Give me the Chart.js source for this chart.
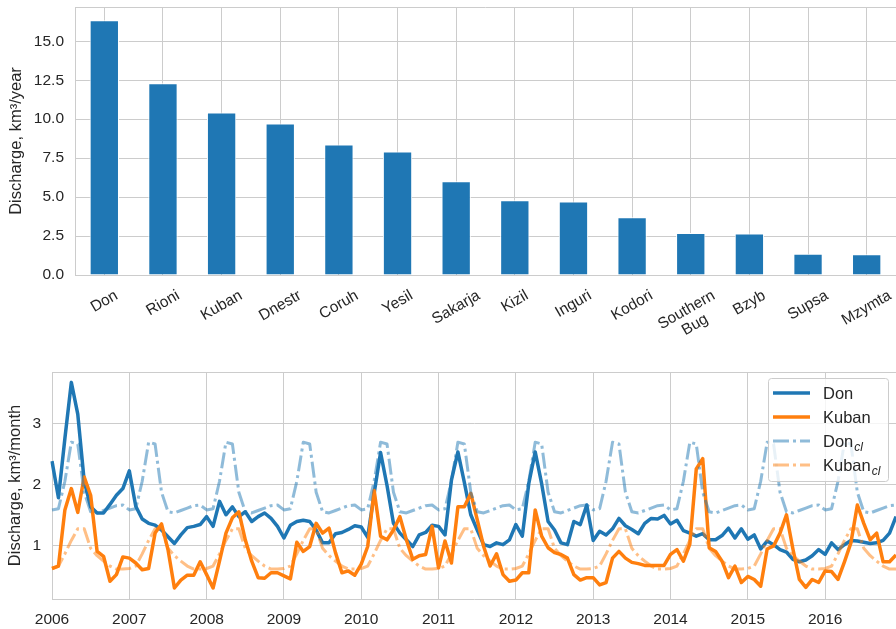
<!DOCTYPE html>
<html>
<head>
<meta charset="utf-8">
<title>Black Sea rivers discharge</title>
<script src="https://cdn.jsdelivr.net/npm/chart.js@4.4.1/dist/chart.umd.min.js"></script>
<style>
  html, body { margin: 0; padding: 0; background: #fff; overflow: hidden; }
  #wrap { position: relative; width: 896px; height: 629px; }
  #topBox { position: absolute; left: 0; top: 0; width: 896px; height: 335px; }
  #bottomBox { position: absolute; left: 0; top: 340px; width: 896px; height: 289px; }
</style>
</head>
<body>
<div id="wrap">
  <div id="topBox"><canvas id="rivers"></canvas></div>
  <div id="bottomBox"><canvas id="monthly"></canvas></div>
</div>
<script>
// ---- data: annual discharge per river ----
const rivers = ['Don', 'Rioni', 'Kuban', 'Dnestr', 'Coruh', 'Yesil', 'Sakarja', 'Kizil',
  'Inguri', 'Kodori', 'Southern\nBug', 'Bzyb', 'Supsa', 'Mzymta'];
const annualDischarge = [16.35, 12.3, 10.43, 9.72, 8.37, 7.92, 6.01, 4.80, 4.72, 3.71, 2.70, 2.66, 1.37, 1.33];
const annualTicks = [0, 2.5, 5, 7.5, 10, 12.5, 15];

// ---- data: monthly discharge 2006-2016 ----
const years = [2006, 2007, 2008, 2009, 2010, 2011, 2012, 2013, 2014, 2015, 2016];
const monthlyTicks = [1, 2, 3];

const donMonthly = [
  2.38, 1.78, 2.75, 3.67, 3.15, 2.05, 1.63, 1.53, 1.53, 1.67, 1.82, 1.93,
  2.22, 1.64, 1.43, 1.36, 1.33, 1.25, 1.14, 1.03, 1.17, 1.29, 1.31, 1.34,
  1.47, 1.31, 1.72, 1.50, 1.63, 1.47, 1.55, 1.39, 1.47, 1.53, 1.44, 1.31,
  1.12, 1.33, 1.39, 1.41, 1.39, 1.25, 1.04, 1.04, 1.19, 1.21, 1.26, 1.32,
  1.30, 1.13, 1.85, 2.52, 1.98, 1.36, 1.20, 1.09, 0.98, 1.17, 1.21, 1.33,
  1.31, 1.17, 2.07, 2.53, 2.03, 1.50, 1.25, 1.01, 0.98, 1.04, 1.01, 1.09,
  1.34, 1.15, 2.01, 2.53, 2.01, 1.39, 1.25, 1.04, 1.01, 1.39, 1.34, 1.66,
  1.08, 1.23, 1.17, 1.27, 1.44, 1.32, 1.26, 1.19, 1.36, 1.44, 1.43, 1.49,
  1.35, 1.41, 1.24, 1.20, 1.15, 1.19, 1.09, 1.09, 1.16, 1.28, 1.12, 1.27,
  1.10, 1.17, 0.94, 1.07, 1.01, 0.93, 0.89, 0.77, 0.73, 0.76, 0.83, 0.93,
  0.85, 1.04, 0.93, 1.01, 1.08, 1.07, 1.05, 1.03, 1.04, 1.08, 1.20, 1.47
];
const kubanMonthly = [
  0.62, 0.66, 1.58, 1.93, 1.54, 2.12, 1.82, 0.90, 0.82, 0.41, 0.52, 0.81,
  0.79, 0.71, 0.60, 0.62, 1.20, 1.35, 0.93, 0.30, 0.43, 0.51, 0.51, 0.73,
  0.52, 0.30, 0.74, 1.20, 1.45, 1.55, 1.09, 0.74, 0.47, 0.46, 0.55, 0.55,
  0.50, 0.45, 1.05, 0.90, 0.98, 1.36, 1.20, 1.28, 0.88, 0.55, 0.58, 0.51,
  0.69, 0.98, 1.90, 1.15, 1.09, 1.25, 1.47, 1.09, 0.77, 0.83, 0.85, 1.31,
  0.63, 1.07, 0.71, 1.63, 1.63, 1.85, 1.42, 0.98, 0.66, 0.86, 0.52, 0.41,
  0.43, 0.55, 0.55, 1.58, 1.15, 0.96, 0.88, 0.85, 0.79, 0.52, 0.43, 0.47,
  0.47, 0.35, 0.39, 0.79, 0.90, 0.79, 0.72, 0.70, 0.67, 0.67, 0.67, 0.67,
  0.85, 0.93, 0.74, 1.02, 2.25, 2.42, 0.96, 0.90, 0.74, 0.47, 0.66, 0.39,
  0.49, 0.44, 0.33, 0.94, 0.99, 1.20, 1.50, 0.94, 0.44, 0.31, 0.44, 0.39,
  0.58, 0.57, 0.44, 0.73, 1.04, 1.66, 1.36, 1.09, 1.20, 0.73, 0.73, 0.84
];
// climatology (same seasonal cycle every year)
const donClimate = [
  1.58, 1.60, 2.05, 2.69, 2.66, 1.87, 1.55, 1.53, 1.57, 1.61, 1.65, 1.66,
  1.58, 1.60, 2.05, 2.69, 2.66, 1.87, 1.55, 1.53, 1.57, 1.61, 1.65, 1.66,
  1.58, 1.60, 2.05, 2.69, 2.66, 1.87, 1.55, 1.53, 1.57, 1.61, 1.65, 1.66,
  1.58, 1.60, 2.05, 2.69, 2.66, 1.87, 1.55, 1.53, 1.57, 1.61, 1.65, 1.66,
  1.58, 1.60, 2.05, 2.69, 2.66, 1.87, 1.55, 1.53, 1.57, 1.61, 1.65, 1.66,
  1.58, 1.60, 2.05, 2.69, 2.66, 1.87, 1.55, 1.53, 1.57, 1.61, 1.65, 1.66,
  1.58, 1.60, 2.05, 2.69, 2.66, 1.87, 1.55, 1.53, 1.57, 1.61, 1.65, 1.66,
  1.58, 1.60, 2.05, 2.69, 2.66, 1.87, 1.55, 1.53, 1.57, 1.61, 1.65, 1.66,
  1.58, 1.60, 2.05, 2.69, 2.66, 1.87, 1.55, 1.53, 1.57, 1.61, 1.65, 1.66,
  1.58, 1.60, 2.05, 2.69, 2.66, 1.87, 1.55, 1.53, 1.57, 1.61, 1.65, 1.66,
  1.58, 1.60, 2.05, 2.69, 2.66, 1.87, 1.55, 1.53, 1.57, 1.61, 1.65, 1.66
];
const kubanClimate = [
  0.62, 0.66, 0.86, 1.08, 1.27, 1.27, 0.95, 0.83, 0.74, 0.66, 0.61, 0.61,
  0.62, 0.66, 0.86, 1.08, 1.27, 1.27, 0.95, 0.83, 0.74, 0.66, 0.61, 0.61,
  0.62, 0.66, 0.86, 1.08, 1.27, 1.27, 0.95, 0.83, 0.74, 0.66, 0.61, 0.61,
  0.62, 0.66, 0.86, 1.08, 1.27, 1.27, 0.95, 0.83, 0.74, 0.66, 0.61, 0.61,
  0.62, 0.66, 0.86, 1.08, 1.27, 1.27, 0.95, 0.83, 0.74, 0.66, 0.61, 0.61,
  0.62, 0.66, 0.86, 1.08, 1.27, 1.27, 0.95, 0.83, 0.74, 0.66, 0.61, 0.61,
  0.62, 0.66, 0.86, 1.08, 1.27, 1.27, 0.95, 0.83, 0.74, 0.66, 0.61, 0.61,
  0.62, 0.66, 0.86, 1.08, 1.27, 1.27, 0.95, 0.83, 0.74, 0.66, 0.61, 0.61,
  0.62, 0.66, 0.86, 1.08, 1.27, 1.27, 0.95, 0.83, 0.74, 0.66, 0.61, 0.61,
  0.62, 0.66, 0.86, 1.08, 1.27, 1.27, 0.95, 0.83, 0.74, 0.66, 0.61, 0.61,
  0.62, 0.66, 0.86, 1.08, 1.27, 1.27, 0.95, 0.83, 0.74, 0.66, 0.61, 0.61
];

// month labels like "2006-01"
const monthLabels = [];
years.forEach(y => {
  for (let m = 1; m <= 12; m++) monthLabels.push(y + '-' + String(m).padStart(2, '0'));
});

const TEXT = '#262626';
const GRID = '#cccccc';
const FONT = '"Liberation Sans", Arial, sans-serif';
const BLUE = '#1f77b4';
const ORANGE = '#ff7f0e';

Chart.defaults.font.family = FONT;
Chart.defaults.color = TEXT;
Chart.defaults.animation = false;

// top spine (seaborn whitegrid draws a frame)
const topSpine = {
  id: 'topSpine',
  afterDatasetsDraw(chart) {
    const a = chart.chartArea, ctx = chart.ctx;
    ctx.save();
    ctx.strokeStyle = GRID;
    ctx.lineWidth = 1;
    ctx.beginPath();
    ctx.moveTo(a.left, a.top + 0.5);
    ctx.lineTo(a.right, a.top + 0.5);
    ctx.stroke();
    ctx.restore();
  }
};

// x labels rotated 30deg, centred under each bar (matplotlib style)
const rotatedLabels = {
  id: 'rotatedLabels',
  afterDraw(chart) {
    const xs = chart.scales.x, ctx = chart.ctx;
    const ang = 30 * Math.PI / 180, lh = 17;
    ctx.save();
    ctx.font = '15.5px ' + FONT;
    ctx.fillStyle = TEXT;
    ctx.textAlign = 'center';
    ctx.textBaseline = 'middle';
    chart.data.labels.forEach((lab, i) => {
      const lines = lab.split('\n');
      const w = Math.max(...lines.map(l => ctx.measureText(l).width));
      const h = lines.length * lh;
      const bh = w * Math.sin(ang) + h * Math.cos(ang);
      const cx = xs.getPixelForValue(i);
      const cy = chart.chartArea.bottom + 12 + bh / 2;
      ctx.save();
      ctx.translate(cx, cy);
      ctx.rotate(-ang);
      lines.forEach((l, k) => ctx.fillText(l, 0, (k - (lines.length - 1) / 2) * lh));
      ctx.restore();
    });
    ctx.restore();
  }
};

// legend box in the upper right with subscripts
const cornerLegend = {
  id: 'cornerLegend',
  afterDraw(chart) {
    const ctx = chart.ctx, a = chart.chartArea;
    const boxW = 120, boxH = 103;
    const x0 = a.right - 8 - boxW, y0 = a.top + 6;
    ctx.save();
    ctx.beginPath();
    ctx.roundRect(x0 + 0.5, y0 + 0.5, boxW, boxH, 3);
    ctx.fillStyle = 'rgba(255,255,255,0.8)';
    ctx.fill();
    ctx.strokeStyle = GRID;
    ctx.lineWidth = 1;
    ctx.stroke();
    chart.data.datasets.forEach((ds, i) => {
      const y = y0 + 15 + i * 24;
      ctx.beginPath();
      ctx.strokeStyle = ds.borderColor;
      ctx.lineWidth = ds.borderWidth;
      ctx.setLineDash(ds.borderDash || []);
      ctx.moveTo(x0 + 5, y);
      ctx.lineTo(x0 + 42, y);
      ctx.stroke();
      ctx.setLineDash([]);
      const parts = ds.label.split('_');
      ctx.fillStyle = TEXT;
      ctx.textBaseline = 'alphabetic';
      ctx.font = '16.5px ' + FONT;
      const tx = x0 + 55, base = y + 6;
      ctx.fillText(parts[0], tx, base);
      if (parts[1]) {
        const w = ctx.measureText(parts[0]).width;
        ctx.font = 'italic 12px ' + FONT;
        ctx.fillText(parts[1], tx + w + 1, base + 3.5);
      }
    });
    ctx.restore();
  }
};

// drop the extra room Chart.js keeps for half tick labels
function noEdgePadding(scale) {
  scale.paddingTop = 0;
  scale.paddingBottom = 0;
}

// ---- top chart: bars ----
new Chart(document.getElementById('rivers'), {
  type: 'bar',
  data: {
    labels: rivers,
    datasets: [{
      data: annualDischarge,
      backgroundColor: BLUE,
      borderColor: '#ffffff',
      borderWidth: 1,
      categoryPercentage: 1.0,
      barPercentage: 0.5
    }]
  },
  options: {
    responsive: true,
    maintainAspectRatio: false,
    layout: { padding: { top: 7, right: 0, left: 0, bottom: 0 } },
    plugins: { legend: { display: false }, tooltip: { enabled: false } },
    scales: {
      x: {
        grid: { color: GRID, offset: false, drawTicks: false },
        border: { color: GRID },
        ticks: { display: false },
        afterFit(scale) { scale.height = 60; }
      },
      y: {
        min: 0,
        max: 17.2,
        grid: { color: GRID, drawTicks: false },
        border: { color: GRID },
        ticks: {
          padding: 11,
          font: { size: 15.5 },
          callback: v => v.toFixed(1)
        },
        afterBuildTicks(scale) { scale.ticks = annualTicks.map(v => ({ value: v })); },
        afterFit(scale) { scale.width = 75; noEdgePadding(scale); },
        title: {
          display: true,
          text: 'Discharge, km³/year',
          font: { size: 16.5 },
          padding: { top: 7, bottom: 0 }
        }
      }
    }
  },
  plugins: [topSpine, rotatedLabels]
});

// ---- bottom chart: monthly lines ----
new Chart(document.getElementById('monthly'), {
  type: 'line',
  data: {
    labels: monthLabels,
    datasets: [
      { label: 'Don', data: donMonthly, borderColor: BLUE, borderWidth: 3.5, order: 4 },
      { label: 'Kuban', data: kubanMonthly, borderColor: ORANGE, borderWidth: 3.5, order: 3 },
      { label: 'Don_cl', data: donClimate, borderColor: 'rgba(31,119,180,0.5)', borderWidth: 3,
        borderDash: [16, 4, 3, 4], order: 2 },
      { label: 'Kuban_cl', data: kubanClimate, borderColor: 'rgba(255,127,14,0.5)', borderWidth: 3,
        borderDash: [16, 4, 3, 4], order: 1 }
    ]
  },
  options: {
    responsive: true,
    maintainAspectRatio: false,
    layout: { padding: { top: 32, right: 0, left: 0, bottom: 0 } },
    elements: {
      point: { radius: 0 },
      line: { tension: 0, fill: false, borderJoinStyle: 'round' }
    },
    plugins: { legend: { display: false }, tooltip: { enabled: false } },
    scales: {
      x: {
        offset: false,
        grid: { color: GRID, drawTicks: false },
        border: { color: GRID },
        ticks: {
          autoSkip: false,
          maxRotation: 0,
          padding: 11,
          font: { size: 15.5 },
          callback(v) { return this.getLabelForValue(v).slice(0, 4); }
        },
        afterBuildTicks(scale) {
          scale.ticks = scale.ticks.filter(t => monthLabels[t.value].endsWith('-01'));
        },
        afterFit(scale) { scale.height = 30; }
      },
      y: {
        min: 0.12,
        max: 3.84,
        grid: { color: GRID, drawTicks: false },
        border: { color: GRID },
        ticks: { padding: 11, font: { size: 15.5 }, callback: v => String(v) },
        afterBuildTicks(scale) { scale.ticks = monthlyTicks.map(v => ({ value: v })); },
        afterFit(scale) { scale.width = 52; noEdgePadding(scale); },
        title: {
          display: true,
          text: 'Discharge, km³/month',
          font: { size: 16.5 },
          padding: { top: 6, bottom: 0 }
        }
      }
    }
  },
  plugins: [topSpine, cornerLegend]
});
</script>
</body>
</html>
